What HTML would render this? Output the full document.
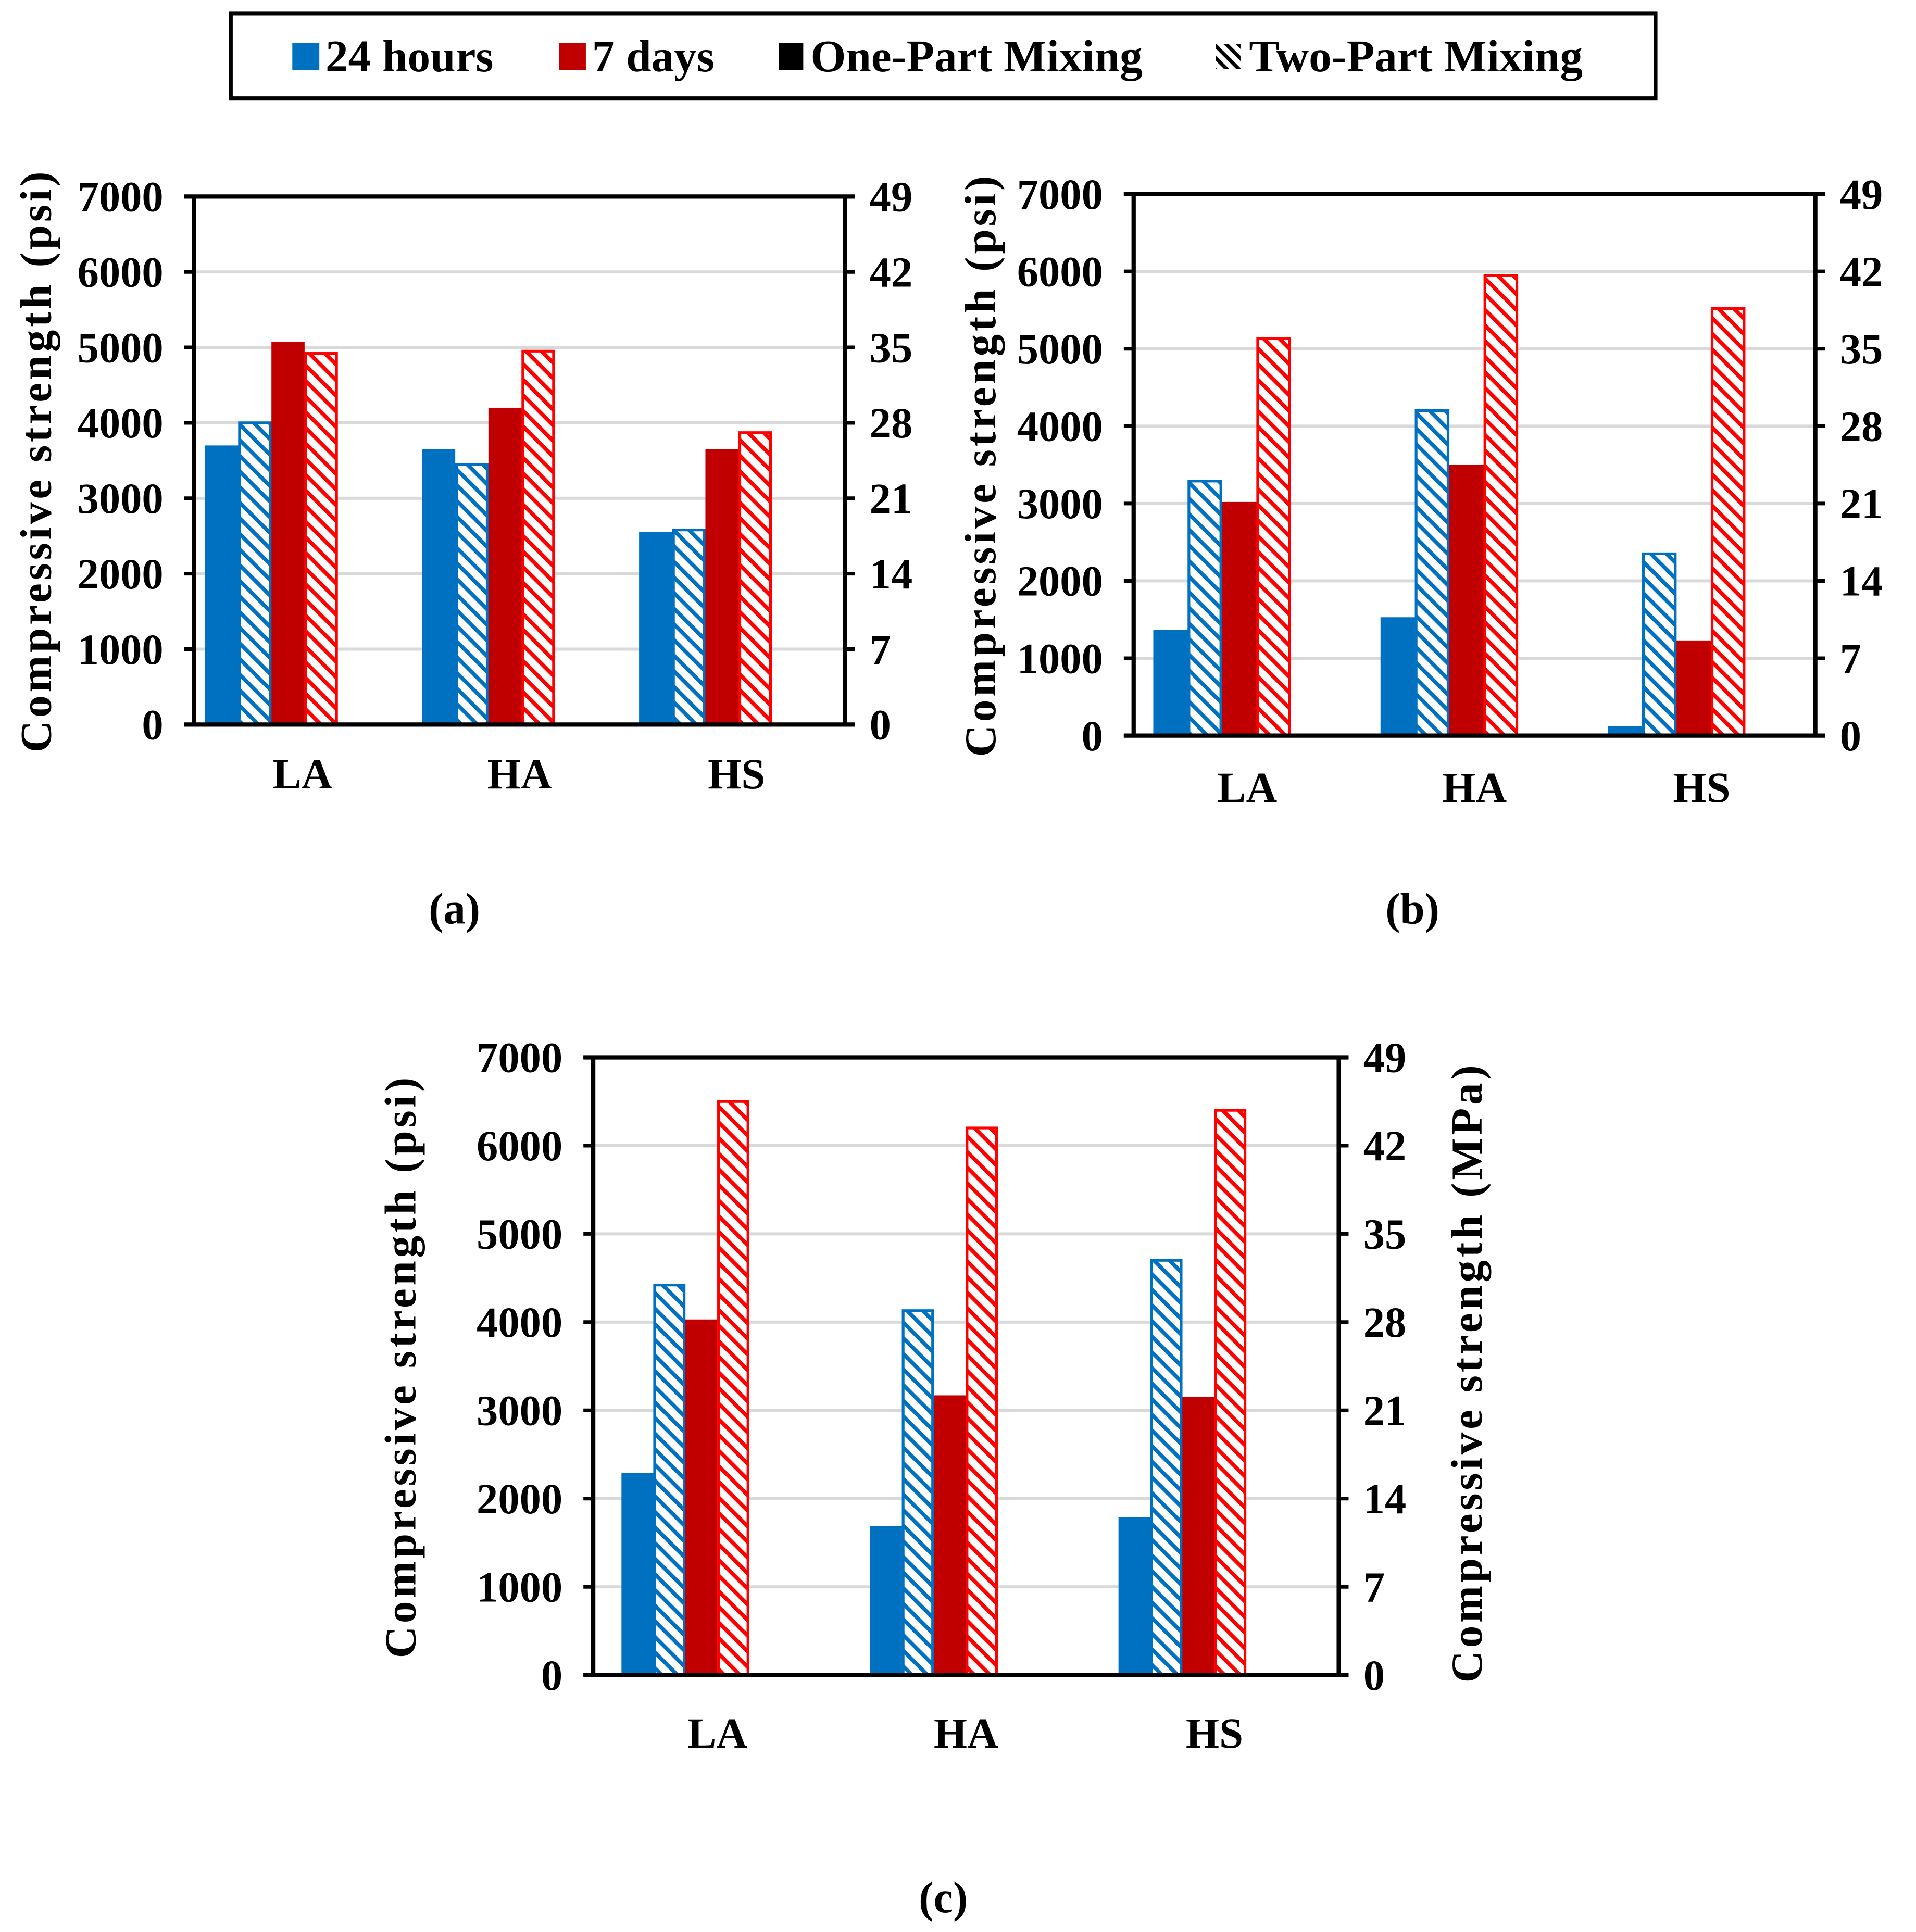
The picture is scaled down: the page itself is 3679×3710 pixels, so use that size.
<!DOCTYPE html>
<html><head><meta charset="utf-8"><style>
html,body{margin:0;padding:0;background:#fff;}
svg{display:block;font-family:"Liberation Serif",serif;font-weight:bold;}
</style></head><body>
<svg id="s" width="3679" height="3710" viewBox="0 0 1560 1573.2" preserveAspectRatio="none" xmlns="http://www.w3.org/2000/svg">
<defs>
<pattern id="hb" patternUnits="userSpaceOnUse" width="9" height="9" patternTransform="rotate(-45)"><rect width="9" height="9" fill="#fff"/><rect x="0" y="0" width="3.2" height="9" fill="#0070C0"/></pattern>
<pattern id="hr" patternUnits="userSpaceOnUse" width="9" height="9" patternTransform="rotate(-45)"><rect width="9" height="9" fill="#fff"/><rect x="0" y="0" width="3.2" height="9" fill="#FF0000"/></pattern>
<pattern id="hk" patternUnits="userSpaceOnUse" width="7" height="7" patternTransform="rotate(-45)"><rect width="7" height="7" fill="#fff"/><rect x="0" y="0" width="3" height="7" fill="#000"/></pattern>
</defs>
<g>
<rect x="188" y="11" width="1160" height="69" fill="#fff" stroke="#000" stroke-width="3"/>
<rect x="238" y="35" width="22" height="22" fill="#0070C0"/>
<text x="265" y="58" font-size="37">24 hours</text>
<rect x="455" y="35" width="22" height="22" fill="#C00000"/>
<text x="482" y="58" font-size="37">7 days</text>
<rect x="634" y="35" width="20" height="22" fill="#000"/>
<text x="660" y="58" font-size="37">One-Part Mixing</text>
<rect x="990" y="36" width="20" height="20" fill="url(#hk)"/>
<text x="1017" y="58" font-size="37">Two-Part Mixing</text>
</g>
<g id="charts"></g>
</svg>
<script>
const categories = ["LA","HA","HS"];
const psiTicks = [0,1000,2000,3000,4000,5000,6000,7000];
const mpaTicks = [0,7,14,21,28,35,42,49];
const a_h24_one = [3700,3650,2550];
const a_h24_two = [4000,3450,2580];
const a_d7_one = [5070,4200,3650];
const a_d7_two = [4920,4950,3870];
const b_h24_one = [1370,1530,120];
const b_h24_two = [3290,4200,2350];
const b_d7_one = [3020,3500,1230];
const b_d7_two = [5130,5950,5520];
const c_h24_one = [2290,1690,1790];
const c_h24_two = [4420,4130,4700];
const c_d7_one = [4030,3170,3150];
const c_d7_two = [6500,6200,6400];

const NS="http://www.w3.org/2000/svg";
const root=document.getElementById('charts');
function mk(tag,attrs,parent){const e=document.createElementNS(NS,tag);for(const k in attrs)e.setAttribute(k,attrs[k]);(parent||root).appendChild(e);return e;}

const panels=[
 {id:"a",L:158,R:688,T:160,B:590,bw:27,off:9,series:[a_h24_one,a_h24_two,a_d7_one,a_d7_two],catY:642,cap:"(a)",capX:370,capY:752,titleX:33,rightTitle:false},
 {id:"b",L:923,R:1478,T:158,B:599,bw:28,off:16,series:[b_h24_one,b_h24_two,b_d7_one,b_d7_two],catY:653,cap:"(b)",capX:1150,capY:752,titleX:802,rightTitle:false},
 {id:"c",L:483,R:1090,T:861,B:1364,bw:26,off:23,series:[c_h24_one,c_h24_two,c_d7_one,c_d7_two],catY:1423,cap:"(c)",capX:768,capY:1557,titleX:330,rightTitle:true}
];
const fills=["#0070C0","url(#hb)","#C00000","url(#hr)"];
const strokes=["#0070C0","#0070C0","#C00000","#FF0000"];
const names=["bar-24h-one-part","bar-24h-two-part","bar-7d-one-part","bar-7d-two-part"];

panels.forEach(p=>{
 const g=mk('g',{});
 
 
 const y=v=>p.B-(v/7000)*(p.B-p.T);
 const cw=(p.R-p.L)/categories.length;
 const x=i=>p.L+cw*(i+0.5);
 psiTicks.forEach((t,i)=>{
  if(t>0&&t<7000){const gl=mk('line',{x1:p.L,x2:p.R,y1:y(t),y2:y(t),stroke:"#d9d9d9","stroke-width":2.5},g);
   }
  const tl=mk('text',{x:p.L-25,y:y(t)+12,"font-size":35,"text-anchor":"end"},g);tl.textContent=t;
  
  mk('line',{x1:p.L-8,x2:p.L,y1:y(t),y2:y(t),stroke:"#000","stroke-width":3},g);
  mk('line',{x1:p.R,x2:p.R+8,y1:y(t),y2:y(t),stroke:"#000","stroke-width":3},g);
  const rl=mk('text',{x:p.R+20,y:y(t)+12,"font-size":35},g);rl.textContent=mpaTicks[i];
  
 });
 p.series.forEach((s,si)=>{
  s.forEach((v,ci)=>{
   const x0=p.L+cw*ci+p.off+si*p.bw;
   const r=mk('rect',{x:x0+(si%2?1:0),y:y(v),width:p.bw-(si%2?2:0),height:p.B-y(v),fill:fills[si],stroke:si%2?strokes[si]:"none","stroke-width":2.2},g);
   
   
  });
 });
 mk('line',{x1:p.L-8,x2:p.R+8,y1:p.B,y2:p.B,stroke:"#000","stroke-width":3.5},g);
 mk('line',{x1:p.L-8,x2:p.R+8,y1:p.T,y2:p.T,stroke:"#000","stroke-width":3.5},g);
 mk('line',{x1:p.L,x2:p.L,y1:p.T,y2:p.B,stroke:"#000","stroke-width":3.5},g);
 mk('line',{x1:p.R,x2:p.R,y1:p.T,y2:p.B,stroke:"#000","stroke-width":3.5},g);
 categories.forEach((c,ci)=>{
  const t=mk('text',{x:x(ci),y:p.catY,"font-size":35,"text-anchor":"middle"},g);t.textContent=c;
  
 });
 const cy=(p.T+p.B)/2;
 const yt=mk('text',{x:p.titleX,y:cy,"font-size":36,"text-anchor":"middle","letter-spacing":2.5,transform:`rotate(-90 ${p.titleX} ${cy})`,"dominant-baseline":"middle"},g);
 yt.textContent="Compressive  strength (psi)";
 
 if(p.rightTitle){
  const rx=1198;
  const rt=mk('text',{x:rx,y:cy+5,"font-size":36,"text-anchor":"middle","letter-spacing":2.5,transform:`rotate(-90 ${rx} ${cy+5})`,"dominant-baseline":"middle"},g);
  rt.textContent="Compressive  strength (MPa)";
  
 }
 const cap=mk('text',{x:p.capX,y:p.capY,"font-size":36,"text-anchor":"middle"},g);cap.textContent=p.cap;
 
});
</script>
</body></html>
